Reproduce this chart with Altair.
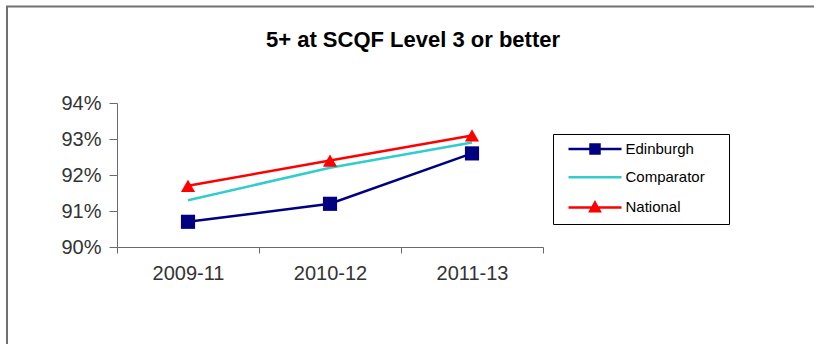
import altair as alt
import pandas as pd

# Reporting periods and attainment rates (share of pupils with 5+ awards at SCQF level 3 or better)
periods = ["2009-11", "2010-12", "2011-13"]
series_names = ["Edinburgh", "Comparator", "National"]
edinburgh = [0.907, 0.912, 0.926]
comparator = [0.913, 0.922, 0.929]
national = [0.917, 0.924, 0.931]
series_colors = ["#000080", "#33CCCC", "#FF0000"]
y_ticks = [0.90, 0.91, 0.92, 0.93, 0.94]

rows = []
for name, colour, values in zip(series_names, series_colors, [edinburgh, comparator, national]):
    for period, value in zip(periods, values):
        rows.append({"period": period, "series": name, "colour": colour, "value": value})
df = pd.DataFrame(rows)

FONT = "Liberation Sans"
AXIS_GREY = "#6b6b6b"
W, H = 426, 144

x_enc = alt.X(
    "period:N",
    sort=periods,
    scale=alt.Scale(type="band", paddingInner=0, paddingOuter=0),
    axis=alt.Axis(title=None, labelAngle=0, tickBand="extent", tickSize=6, labelPadding=10),
)
y_enc = alt.Y(
    "value:Q",
    scale=alt.Scale(domain=[0.90, 0.94], nice=False, zero=False),
    axis=alt.Axis(title=None, values=y_ticks, format=".0%", tickSize=8, labelPadding=8, grid=False),
)
# series colours are taken straight from the data column
colour_enc = alt.Color("colour:N", scale=None)

# series lines
lines = alt.Chart(df).mark_line(strokeWidth=2.5).encode(
    x=x_enc, y=y_enc, color=colour_enc, detail="series:N"
)


def marker_layer(series, shape):
    return (
        alt.Chart(df)
        .transform_filter(alt.datum.series == series)
        .mark_point(filled=True, opacity=1, size=200, shape=shape)
        .encode(x=x_enc, y=y_enc, color=colour_enc)
    )


# data markers (the comparator series has none)
edinburgh_marks = marker_layer("Edinburgh", "square")
national_marks = marker_layer("National", "triangle-up")

# legend keys drawn as a line with its marker
key_paths = [
    "M-5.3,0H5.3M-0.9,-0.9H0.9V0.9H-0.9Z",
    "M-5.3,0H5.3",
    "M-5.3,0H5.3M0,-0.95L0.95,0.75H-0.95Z",
]
key_scale = alt.Scale(domain=series_names, range=series_colors)
# trailing no-break spaces (closed by a zero-width space so they are kept) widen the legend box
label_pad = "\u00a0" * 4 + "\u200b"
key_legend = alt.Legend(title=None, labelExpr="datum.label + '" + label_pad + "'")
key = (
    alt.Chart(df)
    .transform_filter("false")
    .mark_point(filled=True, opacity=1, size=100, strokeWidth=2.5)
    .encode(
        x=x_enc,
        y=y_enc,
        fill=alt.Fill("series:N", scale=key_scale, legend=key_legend),
        stroke=alt.Stroke("series:N", scale=key_scale, legend=key_legend),
        shape=alt.Shape("series:N", scale=alt.Scale(domain=series_names, range=key_paths), legend=key_legend),
    )
)

# outer chart frame (left and top edges)
frame_df = pd.DataFrame({"edge": [0]})
left_edge = alt.Chart(frame_df).mark_rule(color="#707070", strokeWidth=2).encode(
    x=alt.value(-110), y=alt.value(-97), y2=alt.value(241)
)
top_edge = alt.Chart(frame_df).mark_rule(color="#707070", strokeWidth=2).encode(
    x=alt.value(-111), x2=alt.value(697), y=alt.value(-96.5)
)

chart = (
    alt.layer(left_edge, top_edge, lines, edinburgh_marks, national_marks, key)
    .properties(
        width=W,
        height=H,
        autosize=alt.AutoSizeParams(type="none"),
        padding={"left": 117, "top": 103, "right": 271, "bottom": 97},
        background="white",
        title=alt.TitleParams(
            "5+ at SCQF Level 3 or better",
            font=FONT,
            fontSize=22,
            fontWeight="bold",
            color="black",
            anchor="middle",
            frame="group",
            dx=83,
            offset=-64,
            baseline="alphabetic",
        ),
    )
    .configure_view(stroke=None)
    .configure_axis(
        labelFont=FONT,
        labelFontSize=20,
        labelColor="#333333",
        domainColor=AXIS_GREY,
        tickColor=AXIS_GREY,
        domainWidth=1,
        tickWidth=1,
    )
    .configure_legend(
        orient="none",
        legendX=436,
        legendY=31,
        strokeColor="black",
        fillColor="white",
        padding=7.5,
        rowPadding=11.2,
        symbolSize=100,
        symbolStrokeWidth=2.5,
        symbolFillColor="white",
        symbolStrokeColor="black",
        symbolOffset=27,
        labelOffset=23,
        labelFont=FONT,
        labelFontSize=15,
        labelColor="black",
    )
)

chart.save("out.html", embed_options={"renderer": "svg", "actions": False})
